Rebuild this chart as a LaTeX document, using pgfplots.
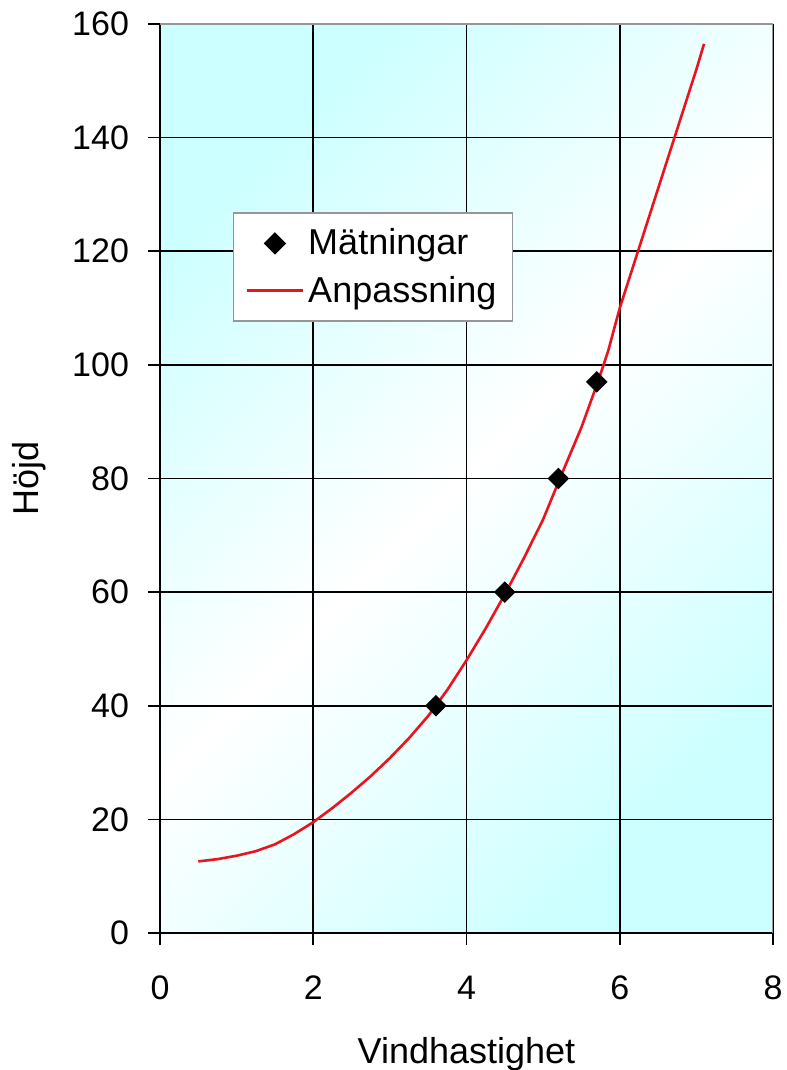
\documentclass[border=0pt]{standalone}
\usepackage{pgfplots}
\pgfplotsset{compat=1.18}
\usepackage{fontspec}
\setmainfont{Liberation Sans}
\definecolor{bgcyan}{RGB}{204,255,255}
\definecolor{framegray}{RGB}{150,150,150}
\definecolor{fitred}{RGB}{235,20,30}
\begin{document}
\begin{tikzpicture}
\begin{axis}[
  scale only axis, width=306.5pt, height=454.5pt,
  xmin=0, xmax=8, ymin=0, ymax=160,
  xtick={0,2,4,6,8}, ytick={0,20,...,160},
  axis lines=left, axis line style={-, black, line width=0.8pt},
  tick align=outside, major tick length=6pt,
  tick style={black, line width=0.8pt},
  grid=major, major grid style={black, line width=0.8pt},
  axis background/.style={top color=bgcyan, bottom color=bgcyan, middle color=white, shading angle=45},
  /pgf/number format/assume math mode=true,
  ticklabel style={font=\fontsize{17}{20}\selectfont},
  xticklabel style={yshift=-12pt},
  yticklabel style={xshift=-6pt},
  label style={font=\fontsize{18}{21}\selectfont},
  xlabel={Vindhastighet}, ylabel={Höjd},
  xlabel style={yshift=-12pt},
  ylabel style={yshift=6pt},
  legend cell align=left,
  legend image code/.code={\draw[mark repeat=2,mark phase=2] plot coordinates {(0pt,0pt)(14pt,0pt)(28pt,0pt)};},
  legend style={at={(rel axis cs:0.119,0.793)}, anchor=north west, draw=framegray, line width=0.7pt, fill=white,
    font=\fontsize{18}{21}\selectfont, inner xsep=6pt, inner ysep=6pt, row sep=5pt},
]
\addplot[only marks, mark=square*, mark size=3.6pt, mark options={rotate=45, fill=black, draw=black}]
  coordinates {(3.6,40) (4.5,60) (5.2,80) (5.7,97)};
\addlegendentry{Mätningar}
\addplot[fitred, line width=1.3pt, no marks] coordinates {
 (0.5,12.6) (0.75,13.0) (1.0,13.6) (1.25,14.4) (1.5,15.6) (1.75,17.4) (2.0,19.5)
 (2.25,22.0) (2.5,24.7) (2.75,27.6) (3.0,30.8) (3.25,34.3) (3.5,38.2) (3.75,42.8)
 (4.0,48.0) (4.25,53.6) (4.5,59.6) (4.75,66.0) (5.0,72.8) (5.25,81.0) (5.5,89.0)
 (5.72,97.2) (5.85,102.5) (6.0,110.0) (6.25,120.5) (6.5,131.0) (6.75,141.5)
 (7.0,152.0) (7.1,156.5)};
\addlegendentry{Anpassning}
\draw[framegray, line width=0.8pt] (rel axis cs:0,1) -- (rel axis cs:1,1) -- (rel axis cs:1,0);
\coordinate (SW) at (rel axis cs:0,0);
\coordinate (NE) at (rel axis cs:1,1);
\end{axis}
\pgfresetboundingbox
\path[use as bounding box] ([xshift=-80pt,yshift=-68.5pt]SW) rectangle ([xshift=7pt,yshift=12pt]NE);
\end{tikzpicture}
\end{document}
